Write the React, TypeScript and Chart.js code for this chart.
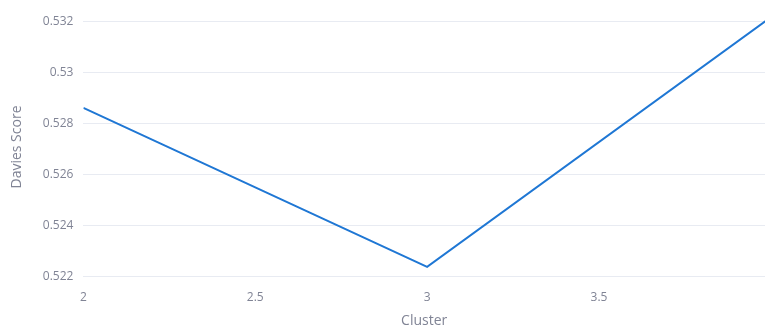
import React, { useEffect, useRef } from "react";
import { Chart, registerables } from "chart.js";

Chart.register(...registerables);

const clusters = [2, 3, 4];
const daviesScores = [0.52862, 0.52239, 0.53217];
const yTickValues = [0.522, 0.524, 0.526, 0.528, 0.53, 0.532];
const xTickValues = [2, 2.5, 3, 3.5];

export default function App() {
  const ref = useRef<HTMLCanvasElement | null>(null);
  useEffect(() => {
    document.body.style.margin = "0";
    const font = "'Open Sans', 'Noto Sans', sans-serif";
    const grey = "#808495";
    const chart = new Chart(ref.current!, {
      type: "line",
      data: {
        datasets: [
          {
            label: "Davies Score",
            data: clusters.map((c, i) => ({ x: c, y: daviesScores[i] })),
            borderColor: "#1f77d4",
            borderWidth: 2,
            pointRadius: 0,
            tension: 0,
            fill: false,
          },
        ],
      },
      options: {
        responsive: false,
        animation: false,
        maintainAspectRatio: false,
        layout: { padding: { top: 0, right: 0, bottom: -3, left: 0 } },
        plugins: { legend: { display: false }, tooltip: { enabled: false } },
        scales: {
          x: {
            type: "linear",
            min: 2,
            max: 3.983,
            afterBuildTicks: (s: any) => {
              s.ticks = xTickValues.map((v) => ({ value: v }));
            },
            grid: { display: false, drawTicks: false },
            border: { display: false },
            ticks: {
              color: grey,
              font: { family: font, size: 12 },
              padding: 14,
              maxRotation: 0,
              callback: (v: any) => String(Number(v)),
            },
            title: {
              display: true,
              text: "Cluster",
              color: grey,
              font: { family: font, size: 14 },
              padding: { top: -7, bottom: 0 },
            },
          },
          y: {
            min: 0.522,
            max: 0.53217,
            afterBuildTicks: (s: any) => {
              s.ticks = yTickValues.map((v) => ({ value: v }));
            },
            grid: { color: "#e8ebf2", lineWidth: 1, drawTicks: false },
            border: { display: false },
            ticks: {
              color: grey,
              font: { family: font, size: 12 },
              padding: 10,
              callback: (v: any) => String(Number(Number(v).toFixed(3))),
            },
            title: {
              display: true,
              text: "Davies Score",
              color: grey,
              font: { family: font, size: 14 },
              padding: { top: 9, bottom: 7 },
            },
          },
        },
      },
    });
    return () => chart.destroy();
  }, []);
  return <canvas ref={ref} width={765} height={326} style={{ display: "block" }} />;
}
